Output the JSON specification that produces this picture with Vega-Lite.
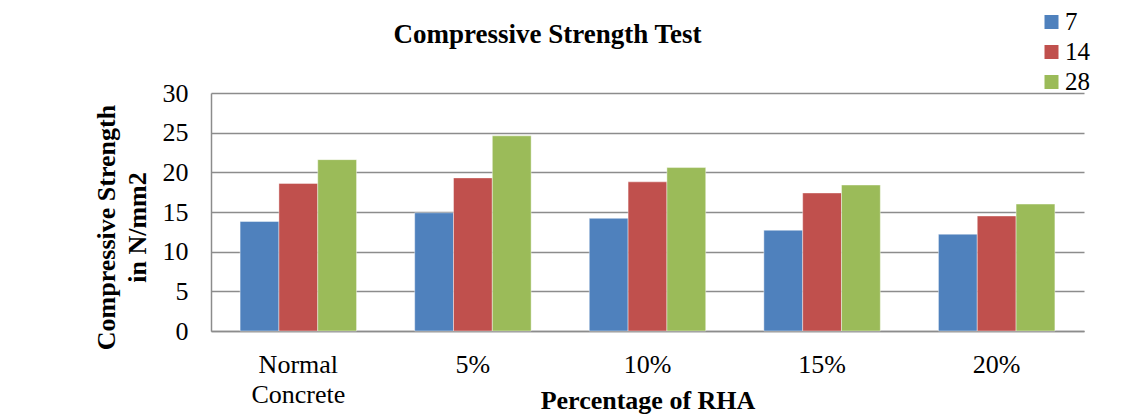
{
  "$schema": "https://vega.github.io/schema/vega-lite/v6.json",
  "autosize": "none",
  "width": 873,
  "height": 238,
  "padding": {"left": 211, "top": 93, "right": 37, "bottom": 89},
  "background": "white",
  "title": {
    "text": "Compressive Strength Test",
    "font": "Liberation Serif",
    "fontSize": 27,
    "fontWeight": "bold",
    "color": "black",
    "anchor": "middle",
    "dx": -100,
    "baseline": "alphabetic",
    "offset": 0,
    "dy": 60
  },
  "data": {
    "values": [
      {"mix": "Normal Concrete", "days": "7", "strength": 13.8},
      {"mix": "Normal Concrete", "days": "14", "strength": 18.6},
      {"mix": "Normal Concrete", "days": "28", "strength": 21.6},
      {"mix": "5%", "days": "7", "strength": 14.9},
      {"mix": "5%", "days": "14", "strength": 19.3},
      {"mix": "5%", "days": "28", "strength": 24.6},
      {"mix": "10%", "days": "7", "strength": 14.2},
      {"mix": "10%", "days": "14", "strength": 18.8},
      {"mix": "10%", "days": "28", "strength": 20.6},
      {"mix": "15%", "days": "7", "strength": 12.7},
      {"mix": "15%", "days": "14", "strength": 17.4},
      {"mix": "15%", "days": "28", "strength": 18.4},
      {"mix": "20%", "days": "7", "strength": 12.2},
      {"mix": "20%", "days": "14", "strength": 14.5},
      {"mix": "20%", "days": "28", "strength": 16.0}
    ]
  },
  "mark": {"type": "bar", "stroke": "#ffffff", "strokeWidth": 0.6, "strokeOpacity": 0.7},
  "encoding": {
    "x": {
      "field": "mix",
      "type": "nominal",
      "sort": null,
      "scale": {"paddingInner": 0.333, "paddingOuter": 0.1667},
      "axis": {
        "title": "Percentage of RHA",
        "titleFont": "Liberation Serif",
        "titleFontSize": 26,
        "titleFontWeight": "bold",
        "titleColor": "black",
        "titleBaseline": "alphabetic",
        "titleY": 77,
        "labelFont": "Liberation Serif",
        "labelFontSize": 26,
        "labelColor": "black",
        "labelAngle": 0,
        "labelBaseline": "top",
        "labelPadding": 20,
        "labelLineHeight": 30,
        "labelExpr": "datum.label == 'Normal Concrete' ? ['Normal', 'Concrete'] : datum.label",
        "ticks": false,
        "tickSize": 0,
        "domainColor": "#8c8c8c",
        "domainWidth": 1.5,
        "grid": false
      }
    },
    "xOffset": {"field": "days", "type": "nominal", "sort": ["7", "14", "28"], "scale": {"paddingInner": 0, "paddingOuter": 0}},
    "y": {
      "field": "strength",
      "type": "quantitative",
      "scale": {"domain": [0, 30], "nice": false},
      "axis": {
        "values": [0, 5, 10, 15, 20, 25, 30],
        "title": ["Compressive Strength", "in N/mm2"],
        "titleFont": "Liberation Serif",
        "titleFontSize": 26,
        "titleFontWeight": "bold",
        "titleColor": "black",
        "titleLineHeight": 31,
        "titleAngle": -90,
        "titleBaseline": "middle",
        "titleAlign": "center",
        "titleX": -105,
        "titleY": 134,
        "labelFont": "Liberation Serif",
        "labelFontSize": 26,
        "labelColor": "black",
        "labelPadding": 23,
        "ticks": false,
        "tickSize": 0,
        "domainColor": "#8c8c8c",
        "domainWidth": 1.5,
        "grid": true,
        "gridColor": "#8c8c8c",
        "gridWidth": 1.5
      }
    },
    "color": {
      "field": "days",
      "type": "nominal",
      "sort": ["7", "14", "28"],
      "scale": {"domain": ["7", "14", "28"], "range": ["#4F81BD", "#C0504D", "#9BBB59"]},
      "legend": {
        "title": null,
        "orient": "none",
        "legendX": 828,
        "legendY": -83.5,
        "padding": 0,
        "symbolType": "square",
        "symbolSize": 196,
        "symbolStrokeWidth": 0,
        "labelFont": "Liberation Serif",
        "labelFontSize": 25,
        "labelColor": "black",
        "labelOffset": 1,
        "rowPadding": 4
      }
    }
  },
  "config": {
    "font": "Liberation Serif",
    "view": {"stroke": null},
    "legend": {"labelFont": "Liberation Serif"}
  }
}
